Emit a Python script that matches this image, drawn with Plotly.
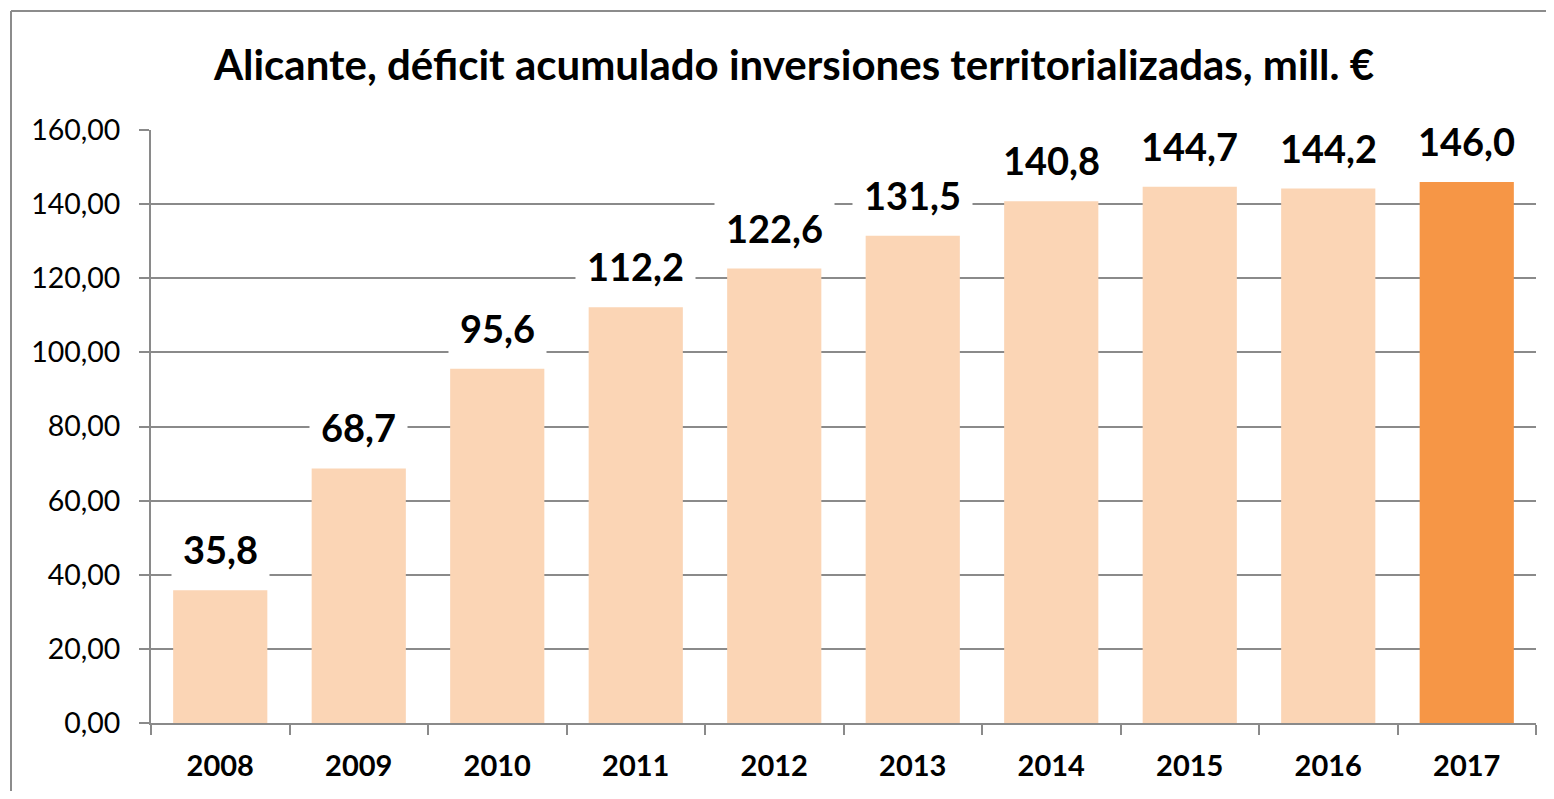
import plotly.graph_objects as go

years = ["2008", "2009", "2010", "2011", "2012", "2013", "2014", "2015", "2016", "2017"]
values = [35.8, 68.7, 95.6, 112.2, 122.6, 131.5, 140.8, 144.7, 144.2, 146.0]
labels = ["35,8", "68,7", "95,6", "112,2", "122,6", "131,5", "140,8", "144,7", "144,2", "146,0"]
colors = ["#FBD5B5"] * 9 + ["#F69646"]
y_ticks = [0, 20, 40, 60, 80, 100, 120, 140, 160]
y_tick_text = ["0,00", "20,00", "40,00", "60,00", "80,00", "100,00", "120,00", "140,00", "160,00"]

FONT = "Lato, 'Open Sans', sans-serif"
GRID = "#8a8a8a"

fig = go.Figure()
fig.add_trace(go.Bar(x=years, y=values, marker=dict(color=colors, line=dict(width=0)),
                     hoverinfo="skip"))

for i, (v, t) in enumerate(zip(values, labels)):
    fig.add_annotation(x=i, y=v, text=t, showarrow=False, yanchor="bottom", yshift=6,
                       bgcolor="white", borderpad=11,
                       font=dict(family=FONT, size=38, color="black", weight="bold"))

# page has an 8px body margin; figure sized so the page does not scroll
W, H = 1538, 783
L, R, T, B = 143, 10, 122, 68
pw, ph = W - L - R, H - T - B
bx0 = (3 - L) / pw
bx1 = (W + 60 - L) / pw
by0 = -(B + 60) / ph
by1 = ((H - B) - 3) / ph
# chart-area border: only the top and left edges fall inside the window
fig.add_shape(type="line", xref="paper", yref="paper", x0=bx0, x1=bx1, y0=by1, y1=by1,
              line=dict(color="#8c8c8c", width=2), layer="below")
fig.add_shape(type="line", xref="paper", yref="paper", x0=bx0, x1=bx0, y0=by0, y1=by1,
              line=dict(color="#8c8c8c", width=2), layer="below")

fig.update_layout(
    width=W, height=H,
    margin=dict(l=L, r=R, t=T, b=B, autoexpand=False),
    paper_bgcolor="white", plot_bgcolor="white",
    bargap=0.32, showlegend=False,
    title=dict(text="<b>Alicante, déficit acumulado inversiones territorializadas, mill. €</b>",
               x=(794 - 8) / W, xanchor="center", y=1 - 57 / H, yanchor="middle",
               font=dict(family=FONT, size=42, color="black")),
    font=dict(family=FONT, color="black"),
    xaxis=dict(type="category", range=[-0.5, 9.5], showline=True, linecolor=GRID, linewidth=2,
               ticks="outside", tickson="boundaries", ticklen=10, tickcolor=GRID, tickwidth=2,
               tickfont=dict(family=FONT, size=29, color="black", weight="bold"),
               tickangle=0, showgrid=False, ticklabelstandoff=16),
    yaxis=dict(range=[0, 160], tickvals=y_ticks, ticktext=y_tick_text,
               showline=True, linecolor=GRID, linewidth=2,
               ticks="outside", ticklen=10, tickcolor=GRID, tickwidth=2,
               showgrid=True, gridcolor=GRID, gridwidth=1.5, zeroline=False,
               tickfont=dict(family=FONT, size=28.5, color="black"), ticklabelstandoff=13),
)

fig.write_html("out.html")
